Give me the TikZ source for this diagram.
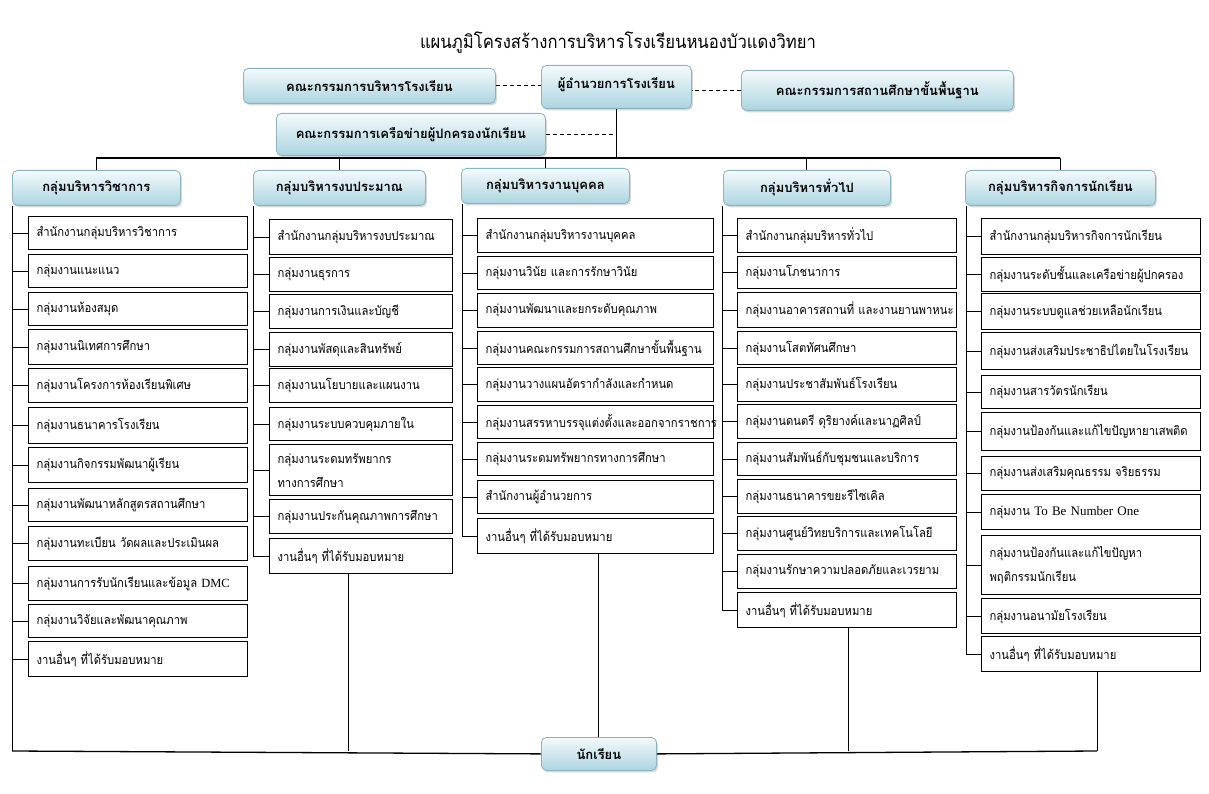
\documentclass[tikz,border=0pt]{standalone}
\usepackage{fontspec}
\setmainfont[Script=Thai]{Loma}
\newfontfamily\thinfont[Script=Thai,FakeStretch=0.9]{Loma}
\newfontfamily\lat{Liberation Serif}
\usetikzlibrary{shadows,calc}
\definecolor{hdrtop}{HTML}{F4FAFC}
\definecolor{hdrbot}{HTML}{ACD5E0}
\definecolor{hdrline}{HTML}{8DB3C0}
\newcommand\Itm[5]{\node[itm,#1,minimum height=#4pt] (#2) at (#3) {#5};}
\begin{document}
\begin{tikzpicture}[x=1pt,y=-1pt,
  hdr/.style={rounded corners=5pt, draw=hdrline, line width=0.8pt, top color=hdrtop, bottom color=hdrbot,
    drop shadow={shadow xshift=1.5pt, shadow yshift=-2pt, opacity=0.3},
    anchor=north west, inner sep=0pt, align=center, font=\bfseries\fontsize{13}{15}\selectfont},
  itm/.style={draw, line width=1.1pt, anchor=north west, align=left, inner xsep=8pt, inner ysep=0pt,
    font=\thinfont\fontsize{12.5}{24}\selectfont},
  cA/.style={text width=203pt},
  cB/.style={text width=167pt},
  cC/.style={text width=220pt},
  cD/.style={text width=203pt},
  cE/.style={text width=203pt},
  ln/.style={line width=0.9pt},
  bus/.style={line width=1.3pt},
  dsh/.style={line width=0.9pt, dash pattern=on 4pt off 3pt}]
\useasboundingbox (0,0) rectangle (1209,794);
\fill[white] (0,0) rectangle (1209,794);

\node[font=\thinfont\fontsize{18.5}{20}\selectfont] (title) at (618,43) {แผนภูมิโครงสร้างการบริหารโรงเรียนหนองบัวแดงวิทยา};

% top level
\node[hdr, minimum width=252pt, minimum height=35pt] (k1) at (243,68) {คณะกรรมการบริหารโรงเรียน};
\node[hdr, minimum width=150pt, minimum height=43pt, text depth=8pt] (dir) at (541,65) {ผู้อำนวยการโรงเรียน};
\node[hdr, minimum width=272pt, minimum height=40pt] (k3) at (741,70) {คณะกรรมการสถานศึกษาขั้นพื้นฐาน};
\node[hdr, minimum width=269pt, minimum height=42pt] (k4) at (276,113) {คณะกรรมการเครือข่ายผู้ปกครองนักเรียน};

% group headers
\node[hdr, minimum width=168pt, minimum height=35pt] (h1) at (12,170) {กลุ่มบริหารวิชาการ};
\node[hdr, minimum width=172pt, minimum height=35pt] (h2) at (253,170) {กลุ่มบริหารงบประมาณ};
\node[hdr, minimum width=168pt, minimum height=35pt] (h3) at (461,168) {กลุ่มบริหารงานบุคคล};
\node[hdr, minimum width=167pt, minimum height=35pt] (h4) at (723,170) {กลุ่มบริหารทั่วไป};
\node[hdr, minimum width=190pt, minimum height=35pt] (h5) at (965,170) {กลุ่มบริหารกิจการนักเรียน};

% student
\node[hdr, minimum width=115pt, minimum height=33pt] (st) at (541,737) {นักเรียน};

% column 1
\Itm{cA}{a1}{28,216}{33}{สำนักงานกลุ่มบริหารวิชาการ}
\Itm{cA}{a2}{28,254}{33}{กลุ่มงานแนะแนว}
\Itm{cA}{a3}{28,292}{33}{กลุ่มงานห้องสมุด}
\Itm{cA}{a4}{28,329}{35}{กลุ่มงานนิเทศการศึกษา}
\Itm{cA}{a5}{28,368}{34}{กลุ่มงานโครงการห้องเรียนพิเศษ}
\Itm{cA}{a6}{28,407}{36}{กลุ่มงานธนาคารโรงเรียน}
\Itm{cA}{a7}{28,447}{35}{กลุ่มงานกิจกรรมพัฒนาผู้เรียน}
\Itm{cA}{a8}{28,488}{33}{กลุ่มงานพัฒนาหลักสูตรสถานศึกษา}
\Itm{cA}{a9}{28,526}{34}{กลุ่มงานทะเบียน วัดผลและประเมินผล}
\Itm{cA}{a10}{28,566}{34}{กลุ่มงานการรับนักเรียนและข้อมูล {\lat DMC}}
\Itm{cA}{a11}{28,604}{33}{กลุ่มงานวิจัยและพัฒนาคุณภาพ}
\Itm{cA}{a12}{28,641}{35}{งานอื่นๆ ที่ได้รับมอบหมาย}

% column 2
\Itm{cB}{b1}{269,219}{35}{สำนักงานกลุ่มบริหารงบประมาณ}
\Itm{cB}{b2}{269,257}{34}{กลุ่มงานธุรการ}
\Itm{cB}{b3}{269,294}{34}{กลุ่มงานการเงินและบัญชี}
\Itm{cB}{b4}{269,332}{34}{กลุ่มงานพัสดุและสินทรัพย์}
\Itm{cB}{b5}{269,368}{34}{กลุ่มงานนโยบายและแผนงาน}
\Itm{cB}{b6}{269,407}{33}{กลุ่มงานระบบควบคุมภายใน}
\Itm{cB}{b7}{269,444}{51}{กลุ่มงานระดมทรัพยากร\\ทางการศึกษา}
\Itm{cB}{b8}{269,499}{34}{กลุ่มงานประกันคุณภาพการศึกษา}
\Itm{cB}{b9}{269,538}{35}{งานอื่นๆ ที่ได้รับมอบหมาย}

% column 3
\Itm{cC}{c1}{477,218}{34}{สำนักงานกลุ่มบริหารงานบุคคล}
\Itm{cC}{c2}{477,256}{33}{กลุ่มงานวินัย และการรักษาวินัย}
\Itm{cC}{c3}{477,293}{34}{กลุ่มงานพัฒนาและยกระดับคุณภาพ}
\Itm{cC}{c4}{477,331}{33}{กลุ่มงานคณะกรรมการสถานศึกษาขั้นพื้นฐาน}
\Itm{cC}{c5}{477,367}{34}{กลุ่มงานวางแผนอัตรากำลังและกำหนด}
\Itm{cC}{c6}{477,405}{33}{กลุ่มงานสรรหาบรรจุแต่งตั้งและออกจากราชการ}
\Itm{cC}{c7}{477,442}{33}{กลุ่มงานระดมทรัพยากรทางการศึกษา}
\Itm{cC}{c8}{477,480}{33}{สำนักงานผู้อำนวยการ}
\Itm{cC}{c9}{477,518}{35}{งานอื่นๆ ที่ได้รับมอบหมาย}

% column 4
\Itm{cD}{d1}{737,218}{34}{สำนักงานกลุ่มบริหารทั่วไป}
\Itm{cD}{d2}{737,256}{32}{กลุ่มงานโภชนาการ}
\Itm{cD}{d3}{737,292}{35}{\mbox{กลุ่มงานอาคารสถานที่ และงานยานพาหนะ}}
\Itm{cD}{d4}{737,331}{33}{กลุ่มงานโสตทัศนศึกษา}
\Itm{cD}{d5}{737,367}{34}{กลุ่มงานประชาสัมพันธ์โรงเรียน}
\Itm{cD}{d6}{737,404}{34}{กลุ่มงานดนตรี ดุริยางค์และนาฏศิลป์}
\Itm{cD}{d7}{737,442}{33}{กลุ่มงานสัมพันธ์กับชุมชนและบริการ}
\Itm{cD}{d8}{737,479}{34}{กลุ่มงานธนาคารขยะรีไซเคิล}
\Itm{cD}{d9}{737,516}{34}{กลุ่มงานศูนย์วิทยบริการและเทคโนโลยี}
\Itm{cD}{d10}{737,554}{34}{กลุ่มงานรักษาความปลอดภัยและเวรยาม}
\Itm{cD}{d11}{737,592}{35}{งานอื่นๆ ที่ได้รับมอบหมาย}

% column 5
\Itm{cE}{e1}{981,218}{36}{สำนักงานกลุ่มบริหารกิจการนักเรียน}
\Itm{cE}{e2}{981,257}{34}{กลุ่มงานระดับชั้นและเครือข่ายผู้ปกครอง}
\Itm{cE}{e3}{981,293}{36}{กลุ่มงานระบบดูแลช่วยเหลือนักเรียน}
\Itm{cE}{e4}{981,332}{37}{กลุ่มงานส่งเสริมประชาธิปไตยในโรงเรียน}
\Itm{cE}{e5}{981,375}{33}{กลุ่มงานสารวัตรนักเรียน}
\Itm{cE}{e6}{981,412}{38}{กลุ่มงานป้องกันและแก้ไขปัญหายาเสพติด}
\Itm{cE}{e7}{981,456}{34}{กลุ่มงานส่งเสริมคุณธรรม จริยธรรม}
\Itm{cE}{e8}{981,494}{35}{กลุ่มงาน {\lat\fontsize{13}{24}\selectfont To Be Number One}}
\Itm{cE}{e9}{981,535}{59}{กลุ่มงานป้องกันและแก้ไขปัญหา\\พฤติกรรมนักเรียน}
\Itm{cE}{e10}{981,598}{35}{กลุ่มงานอนามัยโรงเรียน}
\Itm{cE}{e11}{981,636}{35}{งานอื่นๆ ที่ได้รับมอบหมาย}

% coordinates
\coordinate (tb) at (0,158);
\coordinate (t1) at (12,0);
\coordinate (t2) at (253,0);
\coordinate (t3) at (462,0);
\coordinate (t4) at (722,0);
\coordinate (t5) at (966,0);
\coordinate (bb) at (0,751);
\coordinate (s2) at (348,0);
\coordinate (s4) at (848,0);
\coordinate (s5) at (1097,0);

% dashed links
\draw[dsh] (k1.east) -- (k1.east -| dir.west);
\draw[dsh] (k3.west) -- (k3.west -| dir.east);
\draw[dsh] (k4.east) -- (k4.east -| dir.south);

% top bus
\draw[ln] (dir.south) -- (dir.south |- tb);
\draw[bus] (h1.north |- tb) -- (h5.north |- tb);
\foreach \h in {h1,h2,h3,h4,h5} \draw[ln] (\h.north |- tb) -- (\h.north);

% trunks and ticks
\draw[ln] (t1 |- h1.south) -- (t1 |- bb);
\foreach \i in {1,...,12} \draw[ln] (t1 |- a\i.west) -- (a\i.west);
\draw[ln] (t2 |- h2.south) -- (t2 |- b9.west);
\foreach \i in {1,...,9} \draw[ln] (t2 |- b\i.west) -- (b\i.west);
\draw[ln] (t3 |- h3.south) -- (t3 |- c9.west);
\foreach \i in {1,...,9} \draw[ln] (t3 |- c\i.west) -- (c\i.west);
\draw[ln] (t4 |- h4.south) -- (t4 |- d11.west);
\foreach \i in {1,...,11} \draw[ln] (t4 |- d\i.west) -- (d\i.west);
\draw[ln] (t5 |- h5.south) -- (t5 |- e11.west);
\foreach \i in {1,...,11} \draw[ln] (t5 |- e\i.west) -- (e\i.west);

% bottom bus to students
\draw[bus] (t1 |- bb) -- (st.west);
\draw[bus] (st.east) -- (s5 |- bb);
\draw[ln] (s2 |- b9.south) -- (s2 |- bb);
\draw[ln] (st.north |- c9.south) -- (st.north);
\draw[ln] (s4 |- d11.south) -- (s4 |- bb);
\draw[ln] (s5 |- e11.south) -- (s5 |- bb);
\end{tikzpicture}
\end{document}
